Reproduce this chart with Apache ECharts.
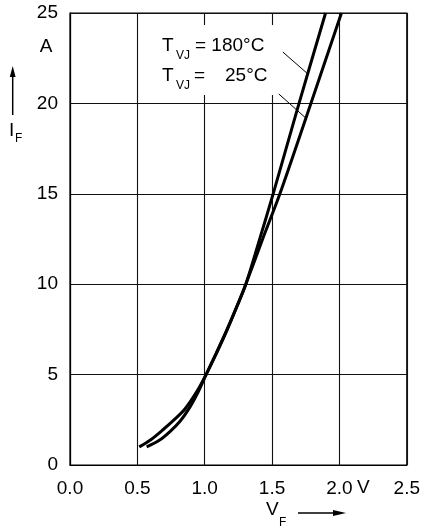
<!DOCTYPE html>
<html><head><meta charset="utf-8">
<script src="https://cdn.jsdelivr.net/npm/echarts@6/dist/echarts.min.js"></script>
<style>html,body{margin:0;padding:0;background:#fff}#c{width:423px;height:530px}</style>
</head><body><div id="c"></div>
<script>
// Tick labels
const xTickLabels = ['0.0', '0.5', '1.0', '1.5', '2.0', '2.5'];
const yTickLabels = ['0', '5', '10', '15', '20', '25'];
// Series: forward characteristic [V_F (V), I_F (A)]
const curve180 = [[0.514,1.0],[0.60,1.4],[0.69,1.95],[0.78,2.55],[0.853,3.1],[0.94,4.05],[1.01,5.0],[1.08,6.06],[1.16,7.36],[1.24,8.78],[1.305,10.0],[1.40,12.3],[1.508,15],[1.70,20],[1.897,25]];
const curve25  = [[0.569,1.0],[0.66,1.35],[0.742,1.85],[0.82,2.45],[0.89,3.2],[0.952,4.05],[1.01,5.0],[1.08,6.1],[1.16,7.4],[1.24,8.8],[1.305,10.0],[1.43,12.5],[1.558,15],[1.788,20],[2.015,25]];
// Leader lines for labels (data coords)
const leader180 = [[1.58,22.84],[1.758,21.68]];
const leader25  = [[1.55,20.52],[1.758,19.14]];

const FONT = '"Liberation Sans", Arial, Helvetica, sans-serif';
const chart = echarts.init(document.getElementById('c'));
const txt = (x, y, s, size, align) => ({type:'text', x, y, z:10,
  style:{text:s, font:size+'px '+FONT, fill:'#000', textVerticalAlign:'middle', textAlign:align||'left'}});

const markLineFor = (seg) => ({symbol:'none', silent:true, animation:false, label:{show:false},
  lineStyle:{color:'#000', width:1, type:'solid'},
  data:[[{coord:seg[0]},{coord:seg[1]}]]});

chart.setOption({
  animation:false,
  backgroundColor:'#fff',
  grid:{left:70, right:16, top:13, bottom:65, show:true, borderColor:'#000', borderWidth:1.2, backgroundColor:'transparent'},
  xAxis:{type:'value', min:0, max:2.5, interval:0.5,
    axisLine:{show:true, lineStyle:{color:'#000', width:1.2}}, axisTick:{show:false},
    splitLine:{show:true, lineStyle:{color:'#111', width:1.1}},
    axisLabel:{margin:14, fontSize:19, fontFamily:FONT, color:'#000',
      formatter:(v)=>xTickLabels[Math.round(v/0.5)]}},
  yAxis:{type:'value', min:0, max:25, interval:5,
    axisLine:{show:true, lineStyle:{color:'#000', width:1.2}}, axisTick:{show:false},
    splitLine:{show:true, lineStyle:{color:'#111', width:1.1}},
    axisLabel:{margin:12, fontSize:19, fontFamily:FONT, color:'#000',
      formatter:(v)=>yTickLabels[Math.round(v/5)]}},
  series:[
    {type:'line', data:curve180, smooth:0.3, showSymbol:false, z:5,
     lineStyle:{color:'#000', width:3}, markLine:markLineFor(leader180)},
    {type:'line', data:curve25, smooth:0.3, showSymbol:false, z:5,
     lineStyle:{color:'#000', width:3}, markLine:markLineFor(leader25)}
  ],
  graphic:[
    {type:'rect', shape:{x:150, y:25, width:133, height:70}, style:{fill:'#fff'}, z:1},
    txt(162, 46, 'T', 19),
    txt(176, 56, 'VJ', 12),
    txt(195, 46, '= 180°C', 19),
    txt(162, 76, 'T', 19),
    txt(176, 86, 'VJ', 12),
    txt(194, 76, '=', 19),
    txt(225, 76, '25°C', 19),
    // Y axis name
    txt(46, 47, 'A', 19, 'center'),
    {type:'line', shape:{x1:12.7, y1:74, x2:12.7, y2:115}, style:{stroke:'#000', lineWidth:1.5}, z:10},
    {type:'polygon', shape:{points:[[12.7,66],[9.8,77],[15.6,77]]}, style:{fill:'#000'}, z:10},
    txt(9, 131, 'I', 19),
    txt(15, 139, 'F', 12),
    // X axis name
    txt(357, 488, 'V', 19),
    txt(266, 510, 'V', 19),
    txt(279, 523, 'F', 12),
    {type:'line', shape:{x1:298, y1:513, x2:337, y2:513}, style:{stroke:'#000', lineWidth:1.5}, z:10},
    {type:'polygon', shape:{points:[[346,513],[333,510],[333,516]]}, style:{fill:'#000'}, z:10}
  ]
});
</script>
</body></html>
